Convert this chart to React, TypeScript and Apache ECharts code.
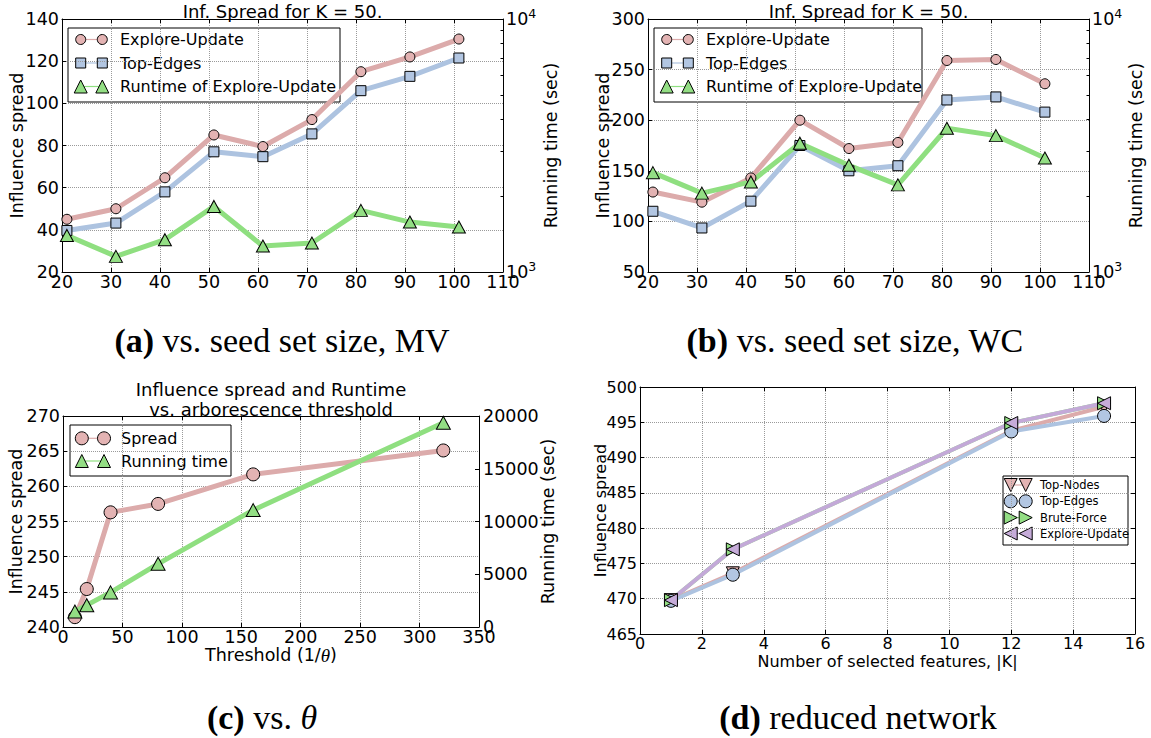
import React, { useEffect, useRef } from 'react';
import * as echarts from 'echarts';

// ---------- data ----------
const AB_X = [21, 31, 41, 51, 61, 71, 81, 91, 101];
const A_EXPLORE = [45, 50, 64.7, 85, 79.5, 92.3, 115, 122, 130.5];
const A_TOPEDGES = [39.7, 43.2, 58, 77, 74.7, 85.5, 106, 112.8, 121.5];
const A_RUNTIME = [1395, 1153, 1342, 1816, 1266, 1302, 1752, 1575, 1505];

const B_EXPLORE = [129, 119, 143, 200, 172, 178, 259, 260, 236];
const B_TOPEDGES = [110, 93.5, 120, 175, 150, 155, 220, 223, 208];
const B_RUNTIME = [2470, 2050, 2270, 3230, 2640, 2210, 3700, 3460, 2820];

const C_X = [10, 20, 40, 80, 160, 320];
const C_SPREAD = [241.4, 245.4, 256.3, 257.5, 261.7, 265.1];
const C_RUNTIME = [1470, 2070, 3280, 5990, 11080, 19360];

const D_X = [1, 3, 12, 15];
const D_TOPNODES = [469.8, 473.6, 493.8, 497.2];
const D_TOPEDGES = [469.7, 473.4, 493.7, 495.9];
const D_BRUTE = [469.8, 477.0, 494.9, 497.7];
const D_EXPLORE = [469.8, 477.0, 494.9, 497.7];

const LOG_MINOR = [2000, 3000, 4000, 5000, 6000, 7000, 8000, 9000];

// ---------- style ----------
const FONT = 'DejaVu Sans';
const SERIF = 'Liberation Serif';
const TF = 17.5; // tick font
const PINK_LINE = '#dcabab', PINK_FILL = '#e3b3b3';
const BLUE_LINE = '#adc3e0', BLUE_FILL = '#b2c6e2';
const GREEN_LINE = '#8fdf80', GREEN_FILL = '#93de84';
const PURPLE_LINE = '#c3a9d8', PURPLE_FILL = '#c6acd9';

const GRIDS = [
  { left: 62, top: 19, width: 441, height: 253 },
  { left: 648, top: 19, width: 441, height: 253 },
  { left: 63, top: 416, width: 416, height: 211 },
  { left: 640, top: 387, width: 495, height: 247 },
];

const tick = (len = 4) => ({ show: true, inside: true, length: len, lineStyle: { color: '#000', width: 1 } });
const aLine = { show: true, onZero: false, lineStyle: { color: '#000', width: 1 } };
const dotted = { show: true, lineStyle: { type: 'dotted', color: '#9a9a9a', width: 1 } };
const plain = (v: number) => String(v);

function xPair(grid: number, min: number, max: number, interval: number, fontSize: number) {
  return [
    {
      type: 'value', gridIndex: grid, position: 'bottom', min, max, interval,
      axisLine: aLine, axisTick: tick(), splitLine: dotted,
      axisLabel: { show: true, color: '#000', fontFamily: FONT, fontSize, margin: 1, formatter: plain },
    },
    {
      type: 'value', gridIndex: grid, position: 'top', min, max, interval,
      axisLine: aLine, axisTick: tick(), splitLine: { show: false }, axisLabel: { show: false },
    },
  ];
}

function yLeft(grid: number, min: number, max: number, interval: number, fontSize: number) {
  return {
    type: 'value', gridIndex: grid, position: 'left', min, max, interval,
    axisLine: aLine, axisTick: tick(), splitLine: dotted,
    axisLabel: { show: true, color: '#000', fontFamily: FONT, fontSize, margin: 3, formatter: plain },
  };
}

function yLogPair(grid: number) {
  return [
    {
      type: 'log', logBase: 10, gridIndex: grid, position: 'right', min: 1000, max: 10000,
      axisLine: aLine, axisTick: tick(5), splitLine: { show: false },
      axisLabel: {
        show: true, margin: 3,
        formatter: (v: number) => `{b|10}{s|${Math.round(Math.log10(v))}}`,
        rich: {
          b: { fontSize: TF, fontFamily: FONT, color: '#000' },
          s: { fontSize: 12.5, fontFamily: FONT, color: '#000', padding: [0, 0, 12, 0], verticalAlign: 'top' },
        },
      },
    },
    {
      type: 'log', logBase: 10, gridIndex: grid, position: 'right', min: 1000, max: 10000,
      axisLine: { show: false }, splitLine: { show: false }, axisLabel: { show: false },
      axisTick: { show: true, inside: true, length: 2.5, customValues: LOG_MINOR, lineStyle: { color: '#000', width: 1 } },
    },
  ];
}

const zip = (xs: number[], ys: number[]) => xs.map((x, i) => [x, ys[i]]);

function lineSeries(xi: number, yi: number, xs: number[], ys: number[], lineColor: string, fill: string,
  symbol: string, size: any, rotate = 0, width = 5) {
  return {
    type: 'line', xAxisIndex: xi, yAxisIndex: yi, data: zip(xs, ys), silent: true,
    symbol, symbolSize: size, symbolRotate: rotate, showAllSymbol: true,
    lineStyle: { color: lineColor, width },
    itemStyle: { color: fill, borderColor: '#000', borderWidth: 1, opacity: 1 },
    emphasis: { disabled: true },
  };
}

// ---------- graphic helpers ----------
type Mk = 'circle' | 'square' | 'up' | 'down' | 'left' | 'right';
function marker(kind: Mk, cx: number, cy: number, s: number, fill: string) {
  const style = { fill, stroke: '#000', lineWidth: 1 };
  const h = s / 2;
  if (kind === 'circle') return { type: 'circle', shape: { cx, cy, r: h }, style };
  if (kind === 'square') return { type: 'rect', shape: { x: cx - h, y: cy - h, width: s, height: s }, style };
  let pts: number[][] = [];
  if (kind === 'up') pts = [[cx, cy - h], [cx + h, cy + h], [cx - h, cy + h]];
  if (kind === 'down') pts = [[cx - h, cy - h], [cx + h, cy - h], [cx, cy + h]];
  if (kind === 'right') pts = [[cx + h, cy], [cx - h, cy - h], [cx - h, cy + h]];
  if (kind === 'left') pts = [[cx - h, cy], [cx + h, cy - h], [cx + h, cy + h]];
  return { type: 'polygon', shape: { points: pts }, style };
}

function legend(box: number[], m1: number, m2: number, tx: number, fontSize: number,
  rows: { y: number; kind: Mk; size: number; line: string; fill: string; label: string }[]) {
  const children: any[] = [
    { type: 'rect', shape: { x: box[0], y: box[1], width: box[2], height: box[3] }, style: { fill: '#fff', stroke: '#000', lineWidth: 1 } },
  ];
  rows.forEach((r) => {
    children.push({ type: 'line', shape: { x1: m1, y1: r.y, x2: m2, y2: r.y }, style: { stroke: r.line, lineWidth: 1.2 } });
    children.push(marker(r.kind, m1, r.y, r.size, r.fill));
    children.push(marker(r.kind, m2, r.y, r.size, r.fill));
    children.push({ type: 'text', x: tx, y: r.y, style: { text: r.label, fontFamily: FONT, fontSize, fill: '#000', align: 'left', verticalAlign: 'middle' } });
  });
  return { type: 'group', z: 100, silent: true, children };
}

function txt(x: number, y: number, text: string, fontSize: number, rot = 0, extra: any = {}) {
  return {
    type: 'text', x, y, rotation: rot, z: 100, silent: true,
    style: { text, fontFamily: FONT, fontSize, fill: '#000', align: 'center', verticalAlign: 'middle', ...extra },
  };
}

function caption(x: number, y: number, tag: string, rest: string) {
  const fs = 34;
  return {
    type: 'text', x, y, z: 100, silent: true,
    style: {
      text: `{b|${tag}} ${rest}`, fontFamily: SERIF, fontSize: fs, fill: '#000', align: 'center', verticalAlign: 'middle',
      rich: { b: { fontFamily: SERIF, fontSize: fs, fontWeight: 'bold' }, i: { fontFamily: SERIF, fontSize: fs, fontStyle: 'italic' } },
    },
  };
}

export default function App() {
  const ref = useRef<HTMLDivElement>(null);
  useEffect(() => {
    if (!ref.current) return;
    const chart = echarts.init(ref.current, undefined, { renderer: 'svg' });

    const xAxis = [
      ...xPair(0, 20, 110, 10, TF),
      ...xPair(1, 20, 110, 10, TF),
      ...xPair(2, 0, 350, 50, TF),
      ...xPair(3, 0, 16, 2, 16),
    ];
    const yAxis = [
      yLeft(0, 20, 140, 20, TF), ...yLogPair(0), // 0,1,2
      yLeft(1, 50, 300, 50, TF), ...yLogPair(1), // 3,4,5
      yLeft(2, 240, 270, 5, TF), // 6
      {
        type: 'value', gridIndex: 2, position: 'right', min: 0, max: 20000, interval: 5000,
        axisLine: aLine, axisTick: tick(), splitLine: { show: false },
        axisLabel: { show: true, color: '#000', fontFamily: FONT, fontSize: TF, margin: 4, formatter: plain },
      }, // 7
      yLeft(3, 465, 500, 5, 16), // 8
      {
        type: 'value', gridIndex: 3, position: 'right', min: 465, max: 500, interval: 5,
        axisLine: aLine, axisTick: tick(), splitLine: { show: false }, axisLabel: { show: false },
      }, // 9
    ];

    const T = [13, 12];
    const series = [
      lineSeries(0, 0, AB_X, A_EXPLORE, PINK_LINE, PINK_FILL, 'circle', 10),
      lineSeries(0, 0, AB_X, A_TOPEDGES, BLUE_LINE, BLUE_FILL, 'rect', 10),
      lineSeries(0, 1, AB_X, A_RUNTIME, GREEN_LINE, GREEN_FILL, 'triangle', T),
      lineSeries(2, 3, AB_X, B_EXPLORE, PINK_LINE, PINK_FILL, 'circle', 10),
      lineSeries(2, 3, AB_X, B_TOPEDGES, BLUE_LINE, BLUE_FILL, 'rect', 10),
      lineSeries(2, 4, AB_X, B_RUNTIME, GREEN_LINE, GREEN_FILL, 'triangle', T),
      lineSeries(4, 6, C_X, C_SPREAD, PINK_LINE, PINK_FILL, 'circle', 13),
      lineSeries(4, 7, C_X, C_RUNTIME, GREEN_LINE, GREEN_FILL, 'triangle', [14, 13]),
      lineSeries(6, 8, D_X, D_TOPNODES, PINK_LINE, PINK_FILL, 'triangle', 13, 180, 4),
      lineSeries(6, 8, D_X, D_TOPEDGES, BLUE_LINE, BLUE_FILL, 'circle', 13, 0, 4),
      lineSeries(6, 8, D_X, D_BRUTE, GREEN_LINE, GREEN_FILL, 'triangle', 13, -90, 4),
      lineSeries(6, 8, D_X, D_EXPLORE, PURPLE_LINE, PURPLE_FILL, 'triangle', 13, 90, 4),
    ];

    const abRows = () => [
      { y: 39.5, kind: 'circle' as Mk, size: 10, line: PINK_LINE, fill: PINK_FILL, label: 'Explore-Update' },
      { y: 63, kind: 'square' as Mk, size: 10, line: BLUE_LINE, fill: BLUE_FILL, label: 'Top-Edges' },
      { y: 86.5, kind: 'up' as Mk, size: 13, line: GREEN_LINE, fill: GREEN_FILL, label: 'Runtime of Explore-Update' },
    ];

    const graphic = [
      txt(282.5, 11.5, 'Inf. Spread for K = 50.', 18),
      txt(868.5, 11.5, 'Inf. Spread for K = 50.', 18),
      txt(271, 389, 'Influence spread and Runtime', 18),
      txt(271, 409, 'vs. arborescence threshold', 18),
      txt(16.5, 145.5, 'Influence spread', 17.5, Math.PI / 2),
      txt(551, 145.5, 'Running time (sec)', 17.5, Math.PI / 2),
      txt(603, 145.5, 'Influence spread', 17.5, Math.PI / 2),
      txt(1136, 145.5, 'Running time (sec)', 17.5, Math.PI / 2),
      txt(16, 521.5, 'Influence spread', 17.5, Math.PI / 2),
      txt(548, 521.5, 'Running time (sec)', 17.5, Math.PI / 2),
      txt(600.5, 510.5, 'Influence spread', 16, Math.PI / 2),
      txt(271, 655, 'Threshold (1/{i|θ})', 17.5, 0, { rich: { i: { fontFamily: SERIF, fontSize: 19, fontStyle: 'italic' } } }),
      txt(887.5, 661, 'Number of selected features, |K|', 16),
      legend([68, 28, 272, 74], 80.7, 102.3, 120, 16, abRows()),
      legend([654, 28, 268, 74], 666.7, 688.3, 706, 16, abRows()),
      legend([70, 425, 161, 51], 81.8, 104, 121, 16, [
        { y: 438.3, kind: 'circle', size: 13, line: PINK_LINE, fill: PINK_FILL, label: 'Spread' },
        { y: 461, kind: 'up', size: 13, line: GREEN_LINE, fill: GREEN_FILL, label: 'Running time' },
      ]),
      legend([1003, 476, 125, 69], 1010.7, 1025.7, 1040, 11.5, [
        { y: 485, kind: 'down', size: 13, line: PINK_LINE, fill: PINK_FILL, label: 'Top-Nodes' },
        { y: 501.3, kind: 'circle', size: 13, line: BLUE_LINE, fill: BLUE_FILL, label: 'Top-Edges' },
        { y: 517.6, kind: 'right', size: 13, line: GREEN_LINE, fill: GREEN_FILL, label: 'Brute-Force' },
        { y: 533.5, kind: 'left', size: 13, line: PURPLE_LINE, fill: PURPLE_FILL, label: 'Explore-Update' },
      ]),
      caption(282, 340, '(a)', 'vs. seed set size, MV'),
      caption(855, 340, '(b)', 'vs. seed set size, WC'),
      caption(262, 717, '(c)', 'vs. {i|θ}'),
      caption(858, 717, '(d)', 'reduced network'),
    ];

    chart.setOption({
      animation: false,
      backgroundColor: '#fff',
      textStyle: { fontFamily: FONT },
      grid: GRIDS.map((g) => ({ ...g, containLabel: false })),
      xAxis,
      yAxis,
      series,
      graphic,
    });
    return () => chart.dispose();
  }, []);
  return <div ref={ref} style={{ position: 'fixed', left: 0, top: 0, width: 1151, height: 738, background: '#fff' }} />;
}
